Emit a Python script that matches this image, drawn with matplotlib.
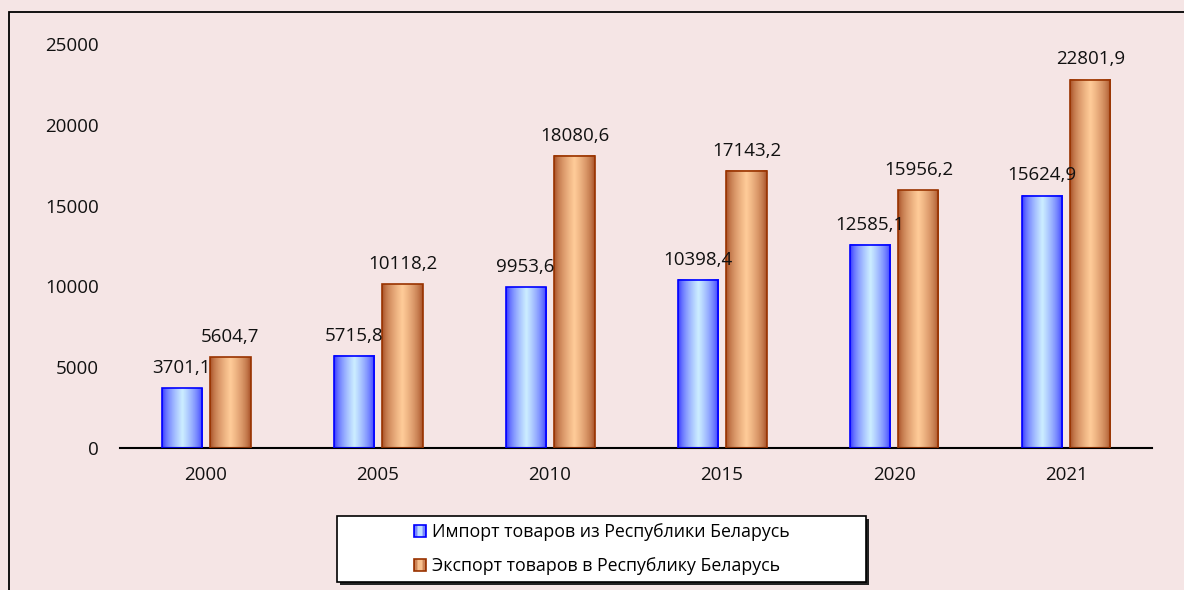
import matplotlib
matplotlib.use("Agg")
import matplotlib.pyplot as plt
import numpy as np
from matplotlib.colors import to_rgb
from matplotlib.patches import Rectangle
from matplotlib.legend_handler import HandlerBase

plt.rcParams['font.family'] = ['Open Sans', 'DejaVu Sans']

# ==========================
# данные
# ==========================
years = ["2000", "2005", "2010", "2015", "2020", "2021"]
imports = [3701.1, 5715.8, 9953.6, 10398.4, 12585.1, 15624.9]
exports = [5604.7, 10118.2, 18080.6, 17143.2, 15956.2, 22801.9]
label_imp = "Импорт товаров из Республики Беларусь"
label_exp = "Экспорт товаров в Республику Беларусь"

BG = "#F5E5E5"
BLUE_EDGE, BLUE_MID, BLUE_DARK = "#0000FF", "#CCEEFF", "#2A2AFF"
ORNG_EDGE, ORNG_MID, ORNG_DARK = "#993300", "#FFCC99", "#A0461E"


def _ramp(dark, mid, n):
    t = np.linspace(0, 1, n)
    p = (1 - np.abs(2 * t - 1)) ** 0.6
    d, m = np.array(to_rgb(dark)), np.array(to_rgb(mid))
    return d[None, :] * (1 - p[:, None]) + m[None, :] * p[:, None]


def _fmt(v):
    return f"{v:.1f}".replace(".", ",")


class GradientHandler(HandlerBase):
    """квадратик легенды с градиентом"""

    def __init__(self, dark, mid, edge):
        super().__init__()
        self.dark, self.mid, self.edge = dark, mid, edge

    def create_artists(self, legend, orig, xd, yd, width, height, fontsize, trans):
        n = 8
        cols = _ramp(self.dark, self.mid, n)
        arts = [Rectangle((xd * -1 + width * i / n, -yd), width / n, height,
                          fc=cols[i], ec="none", transform=trans) for i in range(n)]
        arts.append(Rectangle((-xd, -yd), width, height, fill=False,
                              ec=self.edge, lw=1.2, transform=trans))
        return arts


fig = plt.figure(figsize=(11.84, 5.9), dpi=100, facecolor=BG)
ax = fig.add_axes([0.1014, 0.2407, 0.8716, 0.6847])
ax.set_facecolor(BG)

x = np.arange(len(years))
w = 0.233
b1 = ax.bar(x - 0.142, imports, w, facecolor="none", edgecolor=BLUE_EDGE, lw=1.2, zorder=3)
b2 = ax.bar(x + 0.142, exports, w, facecolor="none", edgecolor=ORNG_EDGE, lw=1.2, zorder=3)

# градиентная заливка столбцов
for bars, dark, mid in [(b1, BLUE_DARK, BLUE_MID), (b2, ORNG_DARK, ORNG_MID)]:
    g = _ramp(dark, mid, 64)[None, :, :]
    for r in bars:
        x0, y0 = r.get_x(), r.get_y()
        ax.imshow(g, extent=(x0, x0 + r.get_width(), y0, y0 + r.get_height()),
                  aspect="auto", zorder=2, interpolation="bilinear")

# подписи значений
for bars, vals in [(b1, imports), (b2, exports)]:
    for r, v in zip(bars, vals):
        ax.annotate(_fmt(v), (r.get_x() + r.get_width() / 2, r.get_height()),
                    xytext=(0, 8), textcoords="offset points",
                    ha="center", va="bottom", fontsize=13.5, color="#111111")

ax.set_xlim(-0.5, len(years) - 0.5)
ax.set_ylim(0, 25000)
ax.set_yticks(range(0, 25001, 5000))
ax.set_xticks(x)
ax.set_xticklabels(years)
ax.tick_params(axis="both", length=0, labelsize=13.5, colors="#111111")
ax.tick_params(axis="y", pad=15)
ax.tick_params(axis="x", pad=13)
for s in ["top", "right", "left"]:
    ax.spines[s].set_visible(False)
ax.spines["bottom"].set_linewidth(1.5)
ax.spines["bottom"].set_color("black")

# рамка области диаграммы
fig.add_artist(Rectangle((9 / 1184, -0.05), 1.2, 1 - 12 / 590 + 0.05,
                         transform=fig.transFigure, fill=False, lw=1.3, ec="black"))

# рамка легенды с тенью
lx, ly, lw_, lh = 337 / 1184, 8 / 590, 529 / 1184, 66 / 590
fig.add_artist(Rectangle((lx + 3 / 1184, ly - 3 / 590), lw_, lh, transform=fig.transFigure,
                         fc="#222222", ec="none"))
fig.add_artist(Rectangle((lx, ly), lw_, lh, transform=fig.transFigure,
                         fc="white", ec="black", lw=1.2))

h1 = Rectangle((0, 0), 1, 1)
h2 = Rectangle((0, 0), 1, 1)
fig.legend([h1, h2], [label_imp, label_exp], loc="center",
           bbox_to_anchor=(lx + lw_ / 2, ly + lh / 2), frameon=False,
           fontsize=12.8, handlelength=0.7, handleheight=0.7,
           handletextpad=0.3, labelspacing=0.9,
           handler_map={h1: GradientHandler(BLUE_DARK, BLUE_MID, BLUE_EDGE),
                        h2: GradientHandler(ORNG_DARK, ORNG_MID, ORNG_EDGE)})

plt.savefig("out.png", dpi=100, facecolor=BG)
plt.close()
